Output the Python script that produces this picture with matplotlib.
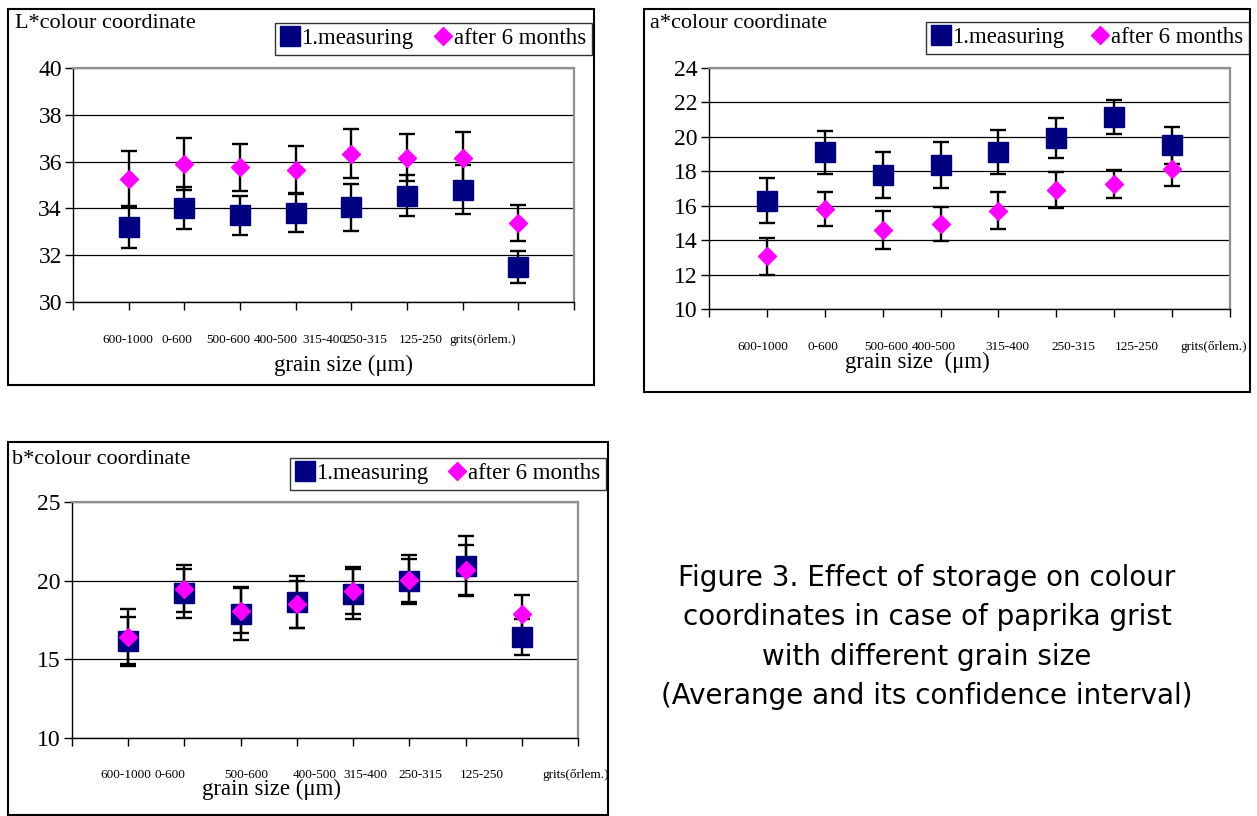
import matplotlib
matplotlib.use('Agg')
import matplotlib.pyplot as plt
from matplotlib.lines import Line2D
from matplotlib.patches import Rectangle
import numpy as np

# grain size classes
cats = ['600-1000', '0-600', '500-600', '400-500', '315-400', '250-315', '125-250', 'grits(őrlem.)']
cats_L = ['600-1000', '0-600', '500-600', '400-500', '315-400', '250-315', '125-250', 'grits(örlem.)']

# L* colour coordinate
L_first = [33.2, 34.0, 33.7, 33.8, 34.05, 34.55, 34.8, 31.5]
L_first_ci = [0.9, 0.9, 0.85, 0.8, 1.0, 0.88, 1.05, 0.7]
L_after = [35.25, 35.9, 35.75, 35.65, 36.33, 36.17, 36.17, 33.38]
L_after_ci = [1.2, 1.1, 1.0, 1.0, 1.05, 1.02, 1.1, 0.76]

# a* colour coordinate
a_first = [16.3, 19.1, 17.77, 18.35, 19.1, 19.95, 21.15, 19.5]
a_first_ci = [1.3, 1.25, 1.34, 1.35, 1.27, 1.17, 1.0, 1.1]
a_after = [13.05, 15.8, 14.6, 14.95, 15.72, 16.9, 17.25, 18.15]
a_after_ci = [1.05, 1.0, 1.1, 1.0, 1.05, 1.05, 0.82, 1.0]

# b* colour coordinate
b_first = [16.15, 19.2, 17.9, 18.65, 19.15, 20.0, 20.95, 16.4]
b_first_ci = [1.55, 1.55, 1.7, 1.65, 1.6, 1.35, 1.9, 1.15]
b_after = [16.45, 19.5, 18.1, 18.5, 19.35, 20.05, 20.67, 17.86]
b_after_ci = [1.77, 1.5, 1.45, 1.5, 1.5, 1.55, 1.6, 1.25]

W, H = 1257, 816
SERIF = 'Liberation Serif'
NAVY = '#000080'
MAGENTA = '#FF00FF'


def fx(px):
    return px / W


def fy(py):
    return 1 - py / H


fig = plt.figure(figsize=(W / 100, H / 100), dpi=100)

panels = [
    dict(title='L*colour coordinate', first=L_first, fci=L_first_ci, after=L_after, aci=L_after_ci,
         ylim=(30, 40), step=2, labels=cats_L, lx=[0.99, 1.87, 2.78, 3.65, 4.51, 5.26, 6.25, 7.36],
         frame=(8, 9, 594, 385), axes=(73, 68, 574, 302), legend=(275, 12, 592, 55),
         tpos=(15, 23), xlab='grain size (μm)', xlpos=(344, 365), pad=23),
    dict(title='a*colour coordinate', first=a_first, fci=a_first_ci, after=a_after, aci=a_after_ci,
         ylim=(10, 24), step=2, labels=cats, lx=[0.93, 1.97, 3.07, 3.89, 5.16, 6.29, 7.39, 8.72],
         frame=(644, 9, 1250, 392), axes=(709, 68, 1230, 309), legend=(926, 12, 1249, 54),
         tpos=(650, 23), xlab='grain size  (μm)', xlpos=(917, 362), pad=23),
    dict(title='b*colour coordinate', first=b_first, fci=b_first_ci, after=b_after, aci=b_after_ci,
         ylim=(10, 25), step=5, labels=cats, lx=[0.96, 1.74, 3.10, 4.31, 5.21, 6.19, 7.28, 8.95],
         frame=(8, 442, 608, 815), axes=(72, 502, 578, 738), legend=(290, 447, 606, 490),
         tpos=(12, 460), xlab='grain size (μm)', xlpos=(272, 789), pad=22),
]

for p in panels:
    x0, y0, x1, y1 = p['frame']
    fig.patches.append(Rectangle((fx(x0), fy(y1)), fx(x1 - x0), (y1 - y0) / H,
                                 transform=fig.transFigure, fill=False,
                                 edgecolor='black', linewidth=1.5, zorder=0))

    l, t, r, b = p['axes']
    ax = fig.add_axes([fx(l), fy(b), fx(r - l), (b - t) / H])
    x = np.arange(1, len(p['first']) + 1)

    ax.errorbar(x, p['first'], yerr=p['fci'], fmt='none', ecolor='black',
                elinewidth=1.7, capsize=5.5, capthick=1.7, zorder=3)
    ax.errorbar(x, p['after'], yerr=p['aci'], fmt='none', ecolor='black',
                elinewidth=1.7, capsize=5.5, capthick=1.7, zorder=3)
    ax.plot(x, p['first'], 's', color=NAVY, markersize=15, linestyle='none', zorder=4)
    ax.plot(x, p['after'], 'D', color=MAGENTA, markersize=9, linestyle='none', zorder=5)

    ax.set_xlim(0, 9)
    ax.set_ylim(*p['ylim'])
    ax.set_yticks(np.arange(p['ylim'][0], p['ylim'][1] + 0.1, p['step']))
    ax.set_xticks(np.arange(0, 10))
    ax.set_xticklabels([])
    ax.set_xticks(p['lx'], labels=p['labels'], minor=True)
    ax.tick_params(axis='x', which='minor', length=0, pad=p['pad'], labelsize=9.5)
    ax.tick_params(axis='x', which='major', direction='out', length=6, width=1)
    ax.tick_params(axis='y', direction='out', length=6, width=1, labelsize=17, pad=2)
    for lab in ax.get_xticklabels(minor=True) + ax.get_yticklabels():
        lab.set_fontfamily(SERIF)

    ax.yaxis.grid(True, color='black', linewidth=0.9)
    ax.set_axisbelow(True)
    for s in ['top', 'right']:
        ax.spines[s].set_color('#909090')
        ax.spines[s].set_linewidth(1.6)
    for s in ['left', 'bottom']:
        ax.spines[s].set_color('black')
        ax.spines[s].set_linewidth(1.0)

    fig.text(fx(p['tpos'][0]), fy(p['tpos'][1]), p['title'], fontsize=16,
             family=SERIF, ha='left', va='center')
    fig.text(fx(p['xlpos'][0]), fy(p['xlpos'][1]), p['xlab'], fontsize=16.5,
             family=SERIF, ha='center', va='center')

    lx0, ly0, lx1, ly1 = p['legend']
    handles = [Line2D([], [], marker='s', color=NAVY, markersize=15, linestyle='none'),
               Line2D([], [], marker='D', color=MAGENTA, markersize=9, linestyle='none')]
    leg = fig.legend(handles, ['1.measuring', 'after 6 months'], loc='lower left',
                     bbox_to_anchor=(fx(lx0), fy(ly1), fx(lx1 - lx0), (ly1 - ly0) / H),
                     mode='expand', ncol=2, frameon=True, fancybox=False,
                     prop={'family': SERIF, 'size': 16.5}, handlelength=0.8,
                     handletextpad=0.1, columnspacing=0.3, borderpad=0.25,
                     borderaxespad=0)
    leg.get_frame().set_edgecolor('black')
    leg.get_frame().set_linewidth(1.0)

fig.text(fx(927), fy(637),
         'Figure 3. Effect of storage on colour\ncoordinates in case of paprika grist\n'
         'with different grain size\n(Averange and its confidence interval)',
         fontsize=20, family='DejaVu Sans', ha='center', va='center', linespacing=1.52)

fig.savefig('out.png', dpi=100)
